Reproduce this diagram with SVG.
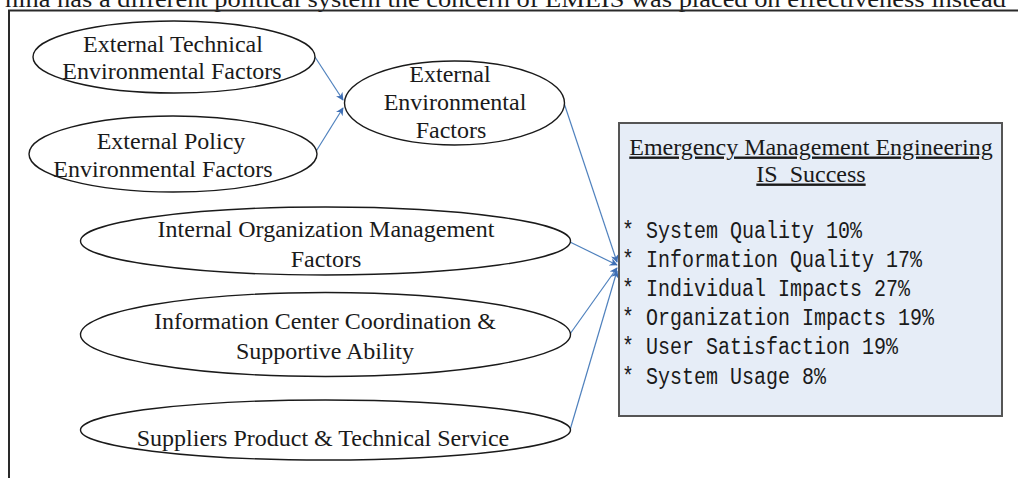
<svg xmlns="http://www.w3.org/2000/svg" width="1018" height="478" viewBox="0 0 1018 478">
  <style>
    .node ellipse { fill: #ffffff; stroke: #1a1a1a; stroke-width: 1.4; }
    .lbl { font-family: "Liberation Serif", "Times New Roman", serif; font-size: 24px; fill: #1a1a1a; text-anchor: middle; }
    .mono { font-family: "Liberation Mono", "Courier New", monospace; font-size: 23px; fill: #1a1a1a; }
    .edge { fill: none; stroke: #4f81bd; stroke-width: 1.2; }
  </style>
  <defs>
    <marker id="arrow" viewBox="0 0 10 10" refX="9" refY="5" markerWidth="8" markerHeight="8" orient="auto" markerUnits="userSpaceOnUse">
      <path d="M0,0 L10,5 L0,10 L3,5 Z" fill="#3f6fb5"/>
    </marker>
  </defs>

  <rect x="0" y="0" width="1018" height="478" fill="#ffffff"/>

  <!-- running text line above the figure -->
  <text x="5" y="7" font-family="Liberation Serif, serif" font-size="24" fill="#1a1a1a" textLength="1001" lengthAdjust="spacingAndGlyphs">hina has a different political system the concern of EMEIS was placed on effectiveness instead</text>

  <!-- figure frame -->
  <path d="M9,478 V10.5 H1018" fill="none" stroke="#2a2a2a" stroke-width="2"/>

  <g id="edges">
    <path class="edge" d="M315,57 L343,100" marker-end="url(#arrow)"/>
    <path class="edge" d="M315,153 L343,108" marker-end="url(#arrow)"/>
    <path class="edge" d="M564,103 L617,262" marker-end="url(#arrow)"/>
    <path class="edge" d="M570,242 L617,265" marker-end="url(#arrow)"/>
    <path class="edge" d="M570,334 L617,268" marker-end="url(#arrow)"/>
    <path class="edge" d="M570,430 L617,271" marker-end="url(#arrow)"/>
  </g>

  <g id="ext-technical" class="node">
    <ellipse cx="174" cy="57" rx="141" ry="36"/>
    <text class="lbl" x="173" y="51.5">External Technical</text>
    <text class="lbl" x="172" y="78.5">Environmental Factors</text>
  </g>

  <g id="ext-policy" class="node">
    <ellipse cx="173" cy="154" rx="144" ry="38"/>
    <text class="lbl" x="171" y="148.5">External Policy</text>
    <text class="lbl" x="163" y="176.5">Environmental Factors</text>
  </g>

  <g id="ext-environment" class="node">
    <ellipse cx="454.5" cy="103" rx="110" ry="42"/>
    <text class="lbl" x="450" y="81.5">External</text>
    <text class="lbl" x="455" y="109.5">Environmental</text>
    <text class="lbl" x="451" y="137.5">Factors</text>
  </g>

  <g id="internal-org" class="node">
    <ellipse cx="325.5" cy="241" rx="245" ry="34"/>
    <text class="lbl" x="326" y="236.5">Internal Organization Management</text>
    <text class="lbl" x="326" y="266.5">Factors</text>
  </g>

  <g id="info-center" class="node">
    <ellipse cx="325.5" cy="334.5" rx="245" ry="42"/>
    <text class="lbl" x="325" y="328.5">Information Center Coordination &amp;</text>
    <text class="lbl" x="325" y="358.5">Supportive Ability</text>
  </g>

  <g id="suppliers" class="node">
    <ellipse cx="325.5" cy="430" rx="245" ry="30"/>
    <text class="lbl" x="323" y="445.5">Suppliers Product &amp; Technical Service</text>
  </g>

  <g id="is-success">
    <rect x="619" y="123" width="383" height="293" fill="#e6edf7" stroke="#555555" stroke-width="2"/>
    <text class="lbl" x="811" y="154.5" text-decoration="underline">Emergency Management Engineering</text>
    <text class="lbl" x="811" y="181.5" text-decoration="underline" xml:space="preserve">IS  Success</text>
    <text class="mono" x="622" y="238" textLength="240" lengthAdjust="spacingAndGlyphs">* System Quality 10%</text>
    <text class="mono" x="622" y="267" textLength="300" lengthAdjust="spacingAndGlyphs">* Information Quality 17%</text>
    <text class="mono" x="622" y="296" textLength="288" lengthAdjust="spacingAndGlyphs">* Individual Impacts 27%</text>
    <text class="mono" x="622" y="325" textLength="312" lengthAdjust="spacingAndGlyphs">* Organization Impacts 19%</text>
    <text class="mono" x="622" y="354" textLength="276" lengthAdjust="spacingAndGlyphs">* User Satisfaction 19%</text>
    <text class="mono" x="622" y="384" textLength="204" lengthAdjust="spacingAndGlyphs">* System Usage 8%</text>
  </g>
</svg>
